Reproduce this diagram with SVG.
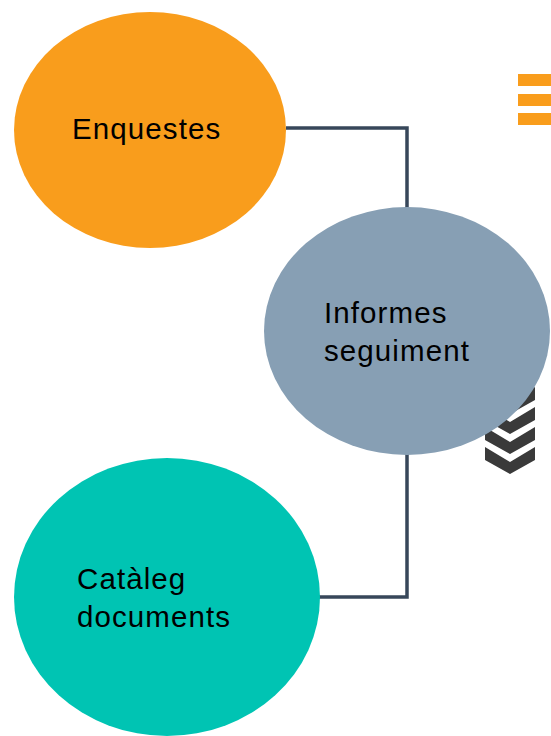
<svg xmlns="http://www.w3.org/2000/svg" width="551" height="736" viewBox="0 0 551 736">
<style>
.lbl{font-family:"Liberation Sans",Arial,sans-serif;font-size:29.5px;letter-spacing:1.1px;fill:#000}
.conn{fill:none;stroke:#37475a;stroke-width:3.5}
.chev{fill:#3a3a3a}
</style>
<defs>
<polygon id="chev" points="485,447 510,462 535,447 535,460 510,474 485,460"/>
</defs>
<rect width="551" height="736" fill="#fff"/>
<g id="deco">
<rect x="518" y="74" width="33" height="12" fill="#f99d1c"/>
<rect x="518" y="94" width="33" height="12" fill="#f99d1c"/>
<rect x="518" y="113" width="33" height="12" fill="#f99d1c"/>
<use href="#chev" class="chev"/>
<use href="#chev" class="chev" transform="translate(0,-20)"/>
<use href="#chev" class="chev" transform="translate(0,-40)"/>
<use href="#chev" class="chev" transform="translate(0,-60)"/>
<use href="#chev" class="chev" transform="translate(0,-80)"/>
</g>
<g id="connectors">
<polyline class="conn" points="286,128 407,128 407,210"/>
<polyline class="conn" points="407,452 407,597 318,597"/>
</g>
<g id="enquestes">
<ellipse cx="150" cy="130" rx="136" ry="118" fill="#f99d1c"/>
<text class="lbl" x="72" y="139">Enquestes</text>
</g>
<g id="informes">
<ellipse cx="407" cy="331" rx="143" ry="124" fill="#879fb4"/>
<text class="lbl" x="324" y="323">Informes</text>
<text class="lbl" x="324" y="361">seguiment</text>
</g>
<g id="cataleg">
<ellipse cx="167" cy="597" rx="153" ry="139" fill="#00c4b3"/>
<text class="lbl" x="77" y="589">Catàleg</text>
<text class="lbl" x="77" y="627">documents</text>
</g>
</svg>
